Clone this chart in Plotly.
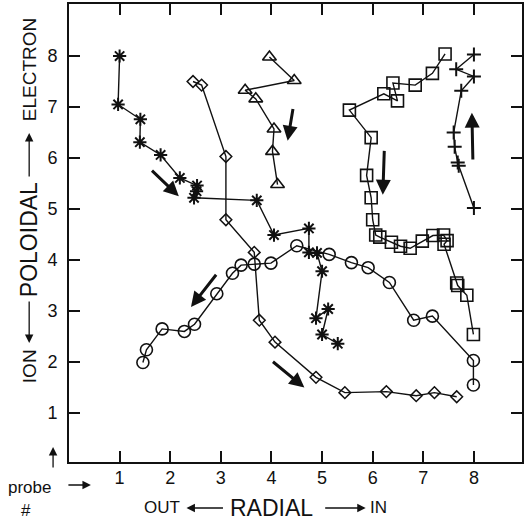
import plotly.graph_objects as go

# ---- data ----
star_x = [1.00, 0.97, 1.41, 1.40, 1.81, 2.19, 2.53, 2.52, 2.47, 3.71, 4.05, 4.74, 4.74, 4.90, 5.00, 4.88, 5.12, 5.00, 5.31]
star_y = [8.00, 7.05, 6.76, 6.31, 6.06, 5.61, 5.46, 5.35, 5.22, 5.17, 4.49, 4.62, 4.15, 4.14, 3.78, 2.86, 3.04, 2.54, 2.36]

diam_x = [2.45, 2.62, 3.10, 3.10, 3.66, 3.76, 4.07, 4.88, 5.45, 6.27, 6.86, 7.22, 7.66]
diam_y = [7.50, 7.43, 6.03, 4.79, 4.15, 2.82, 2.39, 1.70, 1.40, 1.42, 1.34, 1.40, 1.32]

tri_x = [3.96, 4.45, 3.48, 3.69, 4.05, 4.02, 4.12]
tri_y = [7.98, 7.52, 7.33, 7.16, 6.57, 6.13, 5.48]

sq_x = [7.43, 7.18, 6.84, 6.40, 6.49, 6.22, 5.54, 5.97, 5.88, 5.97, 6.00, 6.06, 6.14, 6.37, 6.55, 6.74, 6.98, 7.19, 7.40, 7.47, 7.41, 7.66, 7.68, 7.86, 7.99]
sq_y = [8.04, 7.66, 7.43, 7.47, 7.12, 7.26, 6.94, 6.40, 5.66, 5.22, 4.79, 4.49, 4.45, 4.35, 4.27, 4.23, 4.37, 4.48, 4.49, 4.38, 4.31, 3.55, 3.50, 3.31, 2.54]

plus_x = [8.00, 7.65, 8.00, 7.75, 7.60, 7.62, 7.68, 7.70, 8.00]
plus_y = [8.03, 7.74, 7.60, 7.32, 6.50, 6.22, 5.91, 5.85, 5.02]

circ_x = [1.46, 1.53, 1.84, 2.28, 2.48, 2.92, 3.23, 3.40, 3.66, 3.99, 4.50, 5.14, 5.58, 5.91, 6.33, 6.81, 7.18, 7.99, 7.99]
circ_y = [1.99, 2.24, 2.65, 2.60, 2.74, 3.34, 3.74, 3.90, 3.92, 3.94, 4.28, 4.11, 3.95, 3.85, 3.56, 2.82, 2.90, 2.03, 1.55]

tick_vals = [1, 2, 3, 4, 5, 6, 7, 8]
tick_text = ["1", "2", "3", "4", "5", "6", "7", "8"]

# direction arrows: (tail_x, tail_y, head_x, head_y)
flow_arrows = [
    (1.61, 5.78, 2.17, 5.25),
    (2.93, 3.74, 2.41, 3.08),
    (4.00, 2.03, 4.65, 1.50),
    (4.43, 6.99, 4.32, 6.34),
    (6.23, 6.17, 6.20, 5.28),
    (7.98, 5.94, 7.96, 6.89),
]

INK = "#111111"
FONT = "Liberation Sans"

fig = go.Figure()

def add_series(xs, ys, symbol, size, lw=1.6):
    fig.add_trace(go.Scatter(
        x=xs, y=ys, mode="lines+markers",
        line=dict(color=INK, width=1.4),
        marker=dict(symbol=symbol, size=size, color=INK,
                    line=dict(color=INK, width=lw)),
        showlegend=False, cliponaxis=False,
    ))

add_series(star_x, star_y, "asterisk-open", 11, 2.0)
add_series(diam_x, diam_y, "diamond-open", 9, 1.5)
add_series(tri_x, tri_y, "triangle-up-open", 12, 1.6)
add_series(sq_x, sq_y, "square-open", 12, 1.6)
add_series(plus_x, plus_y, "cross-thin-open", 10, 2.0)
add_series(circ_x, circ_y, "circle-open", 12, 1.6)

annotations = []
for tx, ty, hx, hy in flow_arrows:
    annotations.append(dict(
        x=hx, y=hy, ax=tx, ay=ty, xref="x", yref="y", axref="x", ayref="y",
        text="", showarrow=True, arrowhead=2, arrowsize=1.0, arrowwidth=3.0,
        arrowcolor=INK, standoff=0, startstandoff=0,
    ))

# plot area in pixels
L, R, T, B = 69, 524, 4, 462

def px(xp):
    return (xp - L) / (R - L)

def py(yp):
    return (B - yp) / (B - T)

def label(text, xp, yp, size, angle=0):
    annotations.append(dict(
        x=px(xp), y=py(yp), xref="paper", yref="paper", text=text,
        showarrow=False, textangle=angle, xanchor="center", yanchor="middle",
        font=dict(family=FONT, size=size, color=INK),
    ))

def thin_arrow(x0, y0, x1, y1):
    # tail (x0,y0) -> head (x1,y1), in pixels
    annotations.append(dict(
        x=px(x1), y=py(y1), xref="paper", yref="paper",
        ax=x0 - x1, ay=y0 - y1, axref="pixel", ayref="pixel",
        text="", showarrow=True, arrowhead=2, arrowsize=1.3, arrowwidth=1.3,
        arrowcolor=INK, standoff=0,
    ))

# left axis title
label("ELECTRON", 29, 70, 19, -90)
thin_arrow(29, 178, 29, 133)
label("POLOIDAL", 29, 240, 23, -90)
thin_arrow(29, 300, 29, 343)
label("ION", 29, 366, 19, -90)

# bottom axis title
label("OUT", 162, 508, 17)
thin_arrow(225, 508, 187, 508)
label("RADIAL", 272, 508, 23)
thin_arrow(325, 508, 367, 508)
label("IN", 380, 508, 17)

# probe # labels
label("probe", 29, 487, 17)
label("#", 26, 510, 17)
thin_arrow(67, 485, 91, 485)
thin_arrow(53, 469, 53, 447)

axis_common = dict(
    showline=True, linecolor=INK, linewidth=2, mirror="ticks",
    ticks="inside", ticklen=11, tickwidth=2, tickcolor=INK,
    tickvals=tick_vals, ticktext=tick_text, showgrid=False, zeroline=False,
    tickfont=dict(family=FONT, size=18, color=INK),
)

fig.update_layout(
    width=526, height=521,
    margin=dict(l=L, r=526 - R, t=T, b=521 - B),
    paper_bgcolor="white", plot_bgcolor="white",
    xaxis=dict(range=[0, 8.95], ticklabelstandoff=-2, **axis_common),
    yaxis=dict(range=[0.04, 9.02], ticklabelstandoff=6, **axis_common),
    annotations=annotations,
)

fig.write_html("out.html")
